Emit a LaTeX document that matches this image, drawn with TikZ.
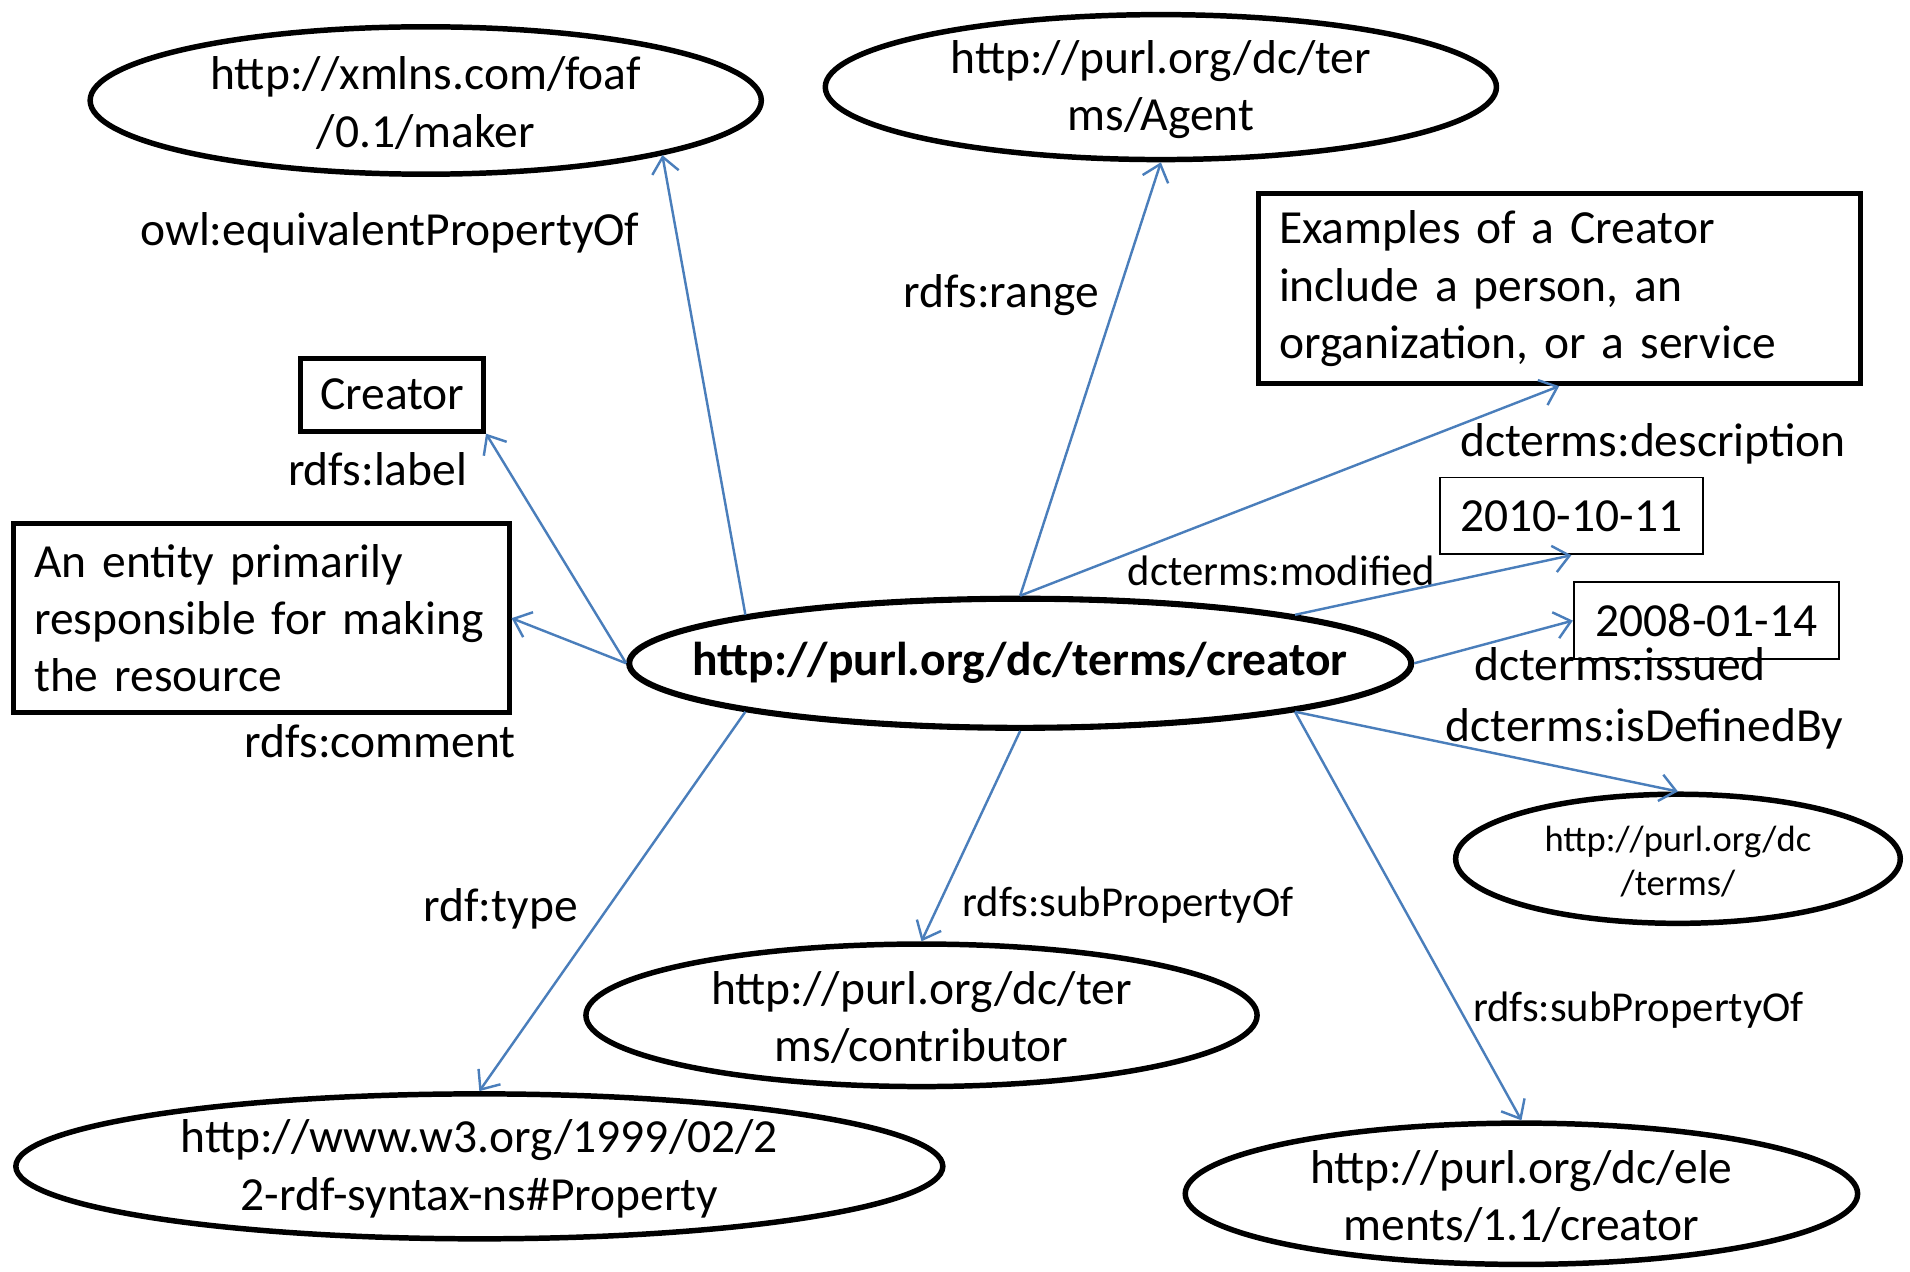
\documentclass[tikz,border=0pt]{standalone}
\usepackage{fontspec}
\setmainfont{Carlito}
\usetikzlibrary{arrows.meta,shapes.geometric}
\definecolor{linkblue}{HTML}{4A7EBB}
\begin{document}
\begin{tikzpicture}[x=1pt,y=-1pt,
  every node/.style={font=\fontsize{39}{47}\selectfont},
  uri/.style={draw, ellipse, line width=4.5pt, inner sep=0pt},
  urilabel/.style={align=center, inner sep=0pt, yshift=-2pt},
  thickbox/.style={draw, rectangle, line width=4pt, inner sep=0pt},
  thinbox/.style={draw, rectangle, line width=1.6pt, inner sep=0pt},
  lbl/.style={text height=0.75em, text depth=0.25em, inner sep=0pt},
  smalllbl/.style={lbl, font=\fontsize{35}{42}\selectfont},
  link/.style={draw=linkblue, line width=2pt, -{Straight Barb[length=13pt,width=22pt,line width=2pt]}}]
\useasboundingbox (0,0) rectangle (1568,1044);
% nodes
\node[uri, minimum width=551, minimum height=121,
  label={[urilabel]center:http://xmlns.com/foaf\\/0.1/maker}] (foaf) at (349.5,82.5) {};
\node[uri, minimum width=551, minimum height=119,
  label={[urilabel]center:http://purl.org/dc/ter\\ms/Agent}] (agent) at (953,71.5) {};
\node[thickbox, text width=460, align=left, minimum height=156, inner xsep=17pt] (ex) at (1280,237)
  {\raisebox{-3pt}{\parbox{460pt}{Examples of a Creator\\include a person, an\\organization, or a service}}};
\node[thickbox, minimum width=150, minimum height=60] (lab) at (322,324) {Creator};
\node[thickbox, text width=373, align=left, minimum height=155, inner xsep=17pt] (ent) at (214.5,507.5)
  {An entity primarily\\responsible for making\\the resource};
\node[uri, line width=5pt, minimum width=642, minimum height=106,
  label={[inner sep=0pt, font=\fontsize{39}{47}\selectfont\bfseries]center:http://purl.org/dc/terms/creator}] (c) at (837.5,544.5) {};
\node[thinbox, minimum width=216, minimum height=63] (d1) at (1290,423.5) {2010-10-11};
\node[thinbox, minimum width=218, minimum height=63] (d2) at (1401,509.5) {2008-01-14};
\node[uri, minimum width=365, minimum height=106,
  label={[urilabel, font=\fontsize{30}{36}\selectfont]center:http://purl.org/dc\\/terms/}] (terms) at (1377.5,705) {};
\node[uri, minimum width=551, minimum height=117,
  label={[urilabel]center:http://purl.org/dc/ter\\ms/contributor}] (contrib) at (756.5,833.5) {};
\node[uri, minimum width=761, minimum height=119,
  label={[urilabel]center:http://www.w3.org/1999/02/2\\2-rdf-syntax-ns\#Property}] (prop) at (393.5,957.5) {};
\node[uri, minimum width=552, minimum height=116,
  label={[urilabel]center:http://purl.org/dc/ele\\ments/1.1/creator}] (elem) at (1249,980) {};
% edge labels
\node[lbl] (l1) at (320,199) {owl:equivalentPropertyOf};
\node[lbl] (l2) at (822,250) {rdfs:range};
\node[lbl] (l3) at (1357,372) {dcterms:description};
\node[lbl] (l4) at (310,396) {rdfs:label};
\node[lbl] (l5) at (312,619) {rdfs:comment};
\node[smalllbl] (l6) at (1052,478) {dcterms:modified};
\node[lbl] (l7) at (1330,556) {dcterms:issued};
\node[lbl] (l8) at (1350,606) {dcterms:isDefinedBy};
\node[lbl] (l9) at (411,754) {rdf:type};
\node[smalllbl] (l10) at (926,750) {rdfs:subPropertyOf};
\node[smalllbl] (l11) at (1345,836) {rdfs:subPropertyOf};
% connectors
\draw[link] (c.170) -- (foaf.-13);
\draw[link] (c.north) -- (agent.south);
\draw[link] (c.north) -- (ex.south);
\draw[link] (c.west) -- (lab.south east);
\draw[link] (c.west) -- (ent.east);
\draw[link] (c.10) -- (d1.south);
\draw[link] (c.east) -- (d2.west);
\draw[link] (c.-10) -- (terms.north);
\draw[link] (c.south) -- (contrib.north);
\draw[link] (c.190) -- (prop.north);
\draw[link] (c.-10) -- (elem.north);
\end{tikzpicture}
\end{document}
